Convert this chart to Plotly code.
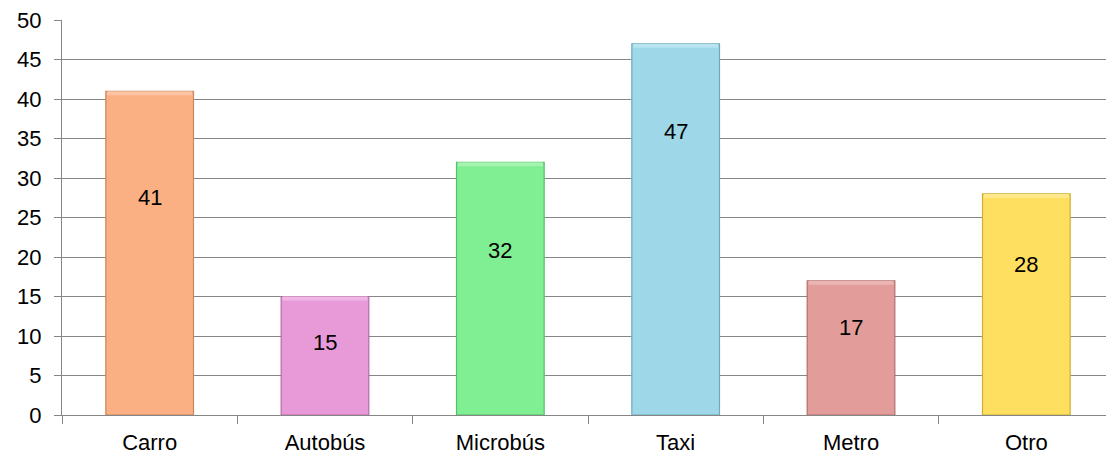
import plotly.graph_objects as go

categories = ["Carro", "Autobús", "Microbús", "Taxi", "Metro", "Otro"]
values = [41, 15, 32, 47, 17, 28]
bar_colors = ["#FBB083", "#E89AD8", "#80EE92", "#9DD7E8", "#E29D9B", "#FFDF60"]
edge_colors = ["#C8865E", "#B56CA6", "#57BF68", "#6FAABB", "#AF706E", "#CCAE35"]
top_colors = ["#FCC4A2", "#F0B7E5", "#A4F3B1", "#B8E3F0", "#EAB6B4", "#FFE88A"]
# vertical position (in axis units) of each value label, as placed in the reference
label_y = [27.5, 9.2, 20.8, 35.9, 11.1, 19.1]

FONT = "Liberation Sans, Arial"
FS = 22
BEVEL = 0.5  # thickness of the lighter top face, axis units

fig = go.Figure()
fig.add_trace(go.Bar(
    x=categories, y=values, width=0.5,
    marker=dict(color=bar_colors, line=dict(color=edge_colors, width=1.2)),
    hoverinfo="x+y",
))
fig.add_trace(go.Bar(
    x=categories, y=[BEVEL] * len(values), base=[v - BEVEL for v in values],
    width=0.485, marker=dict(color=top_colors, line=dict(width=0)),
    hoverinfo="skip",
))

for c, v, ly in zip(categories, values, label_y):
    fig.add_annotation(x=c, y=ly, text=str(v), showarrow=False,
                       font=dict(family=FONT, size=FS, color="#000000"))

fig.update_layout(
    width=1106, height=456,
    margin=dict(l=54, r=0, t=10, b=49),
    paper_bgcolor="white", plot_bgcolor="white",
    showlegend=False,
    barmode="overlay",
    font=dict(family=FONT, size=FS, color="#000000"),
)
fig.update_xaxes(
    type="category", tickson="boundaries", ticks="outside", ticklen=8,
    tickcolor="#868686", tickwidth=1.3, ticklabelstandoff=7,
    showline=True, linecolor="#868686", linewidth=1.3,
    showgrid=False, tickfont=dict(size=FS),
)
fig.update_yaxes(
    range=[0, 50.03], tickvals=list(range(0, 51, 5)), ticks="outside", ticklen=7,
    tickcolor="#868686", tickwidth=1.3, ticklabelstandoff=8,
    ticklabeloverflow="allow",
    showline=True, linecolor="#868686", linewidth=1.3,
    showgrid=True, gridcolor="#868686", gridwidth=1.3,
    zeroline=False, tickfont=dict(size=FS),
)

fig.write_html("out.html")
